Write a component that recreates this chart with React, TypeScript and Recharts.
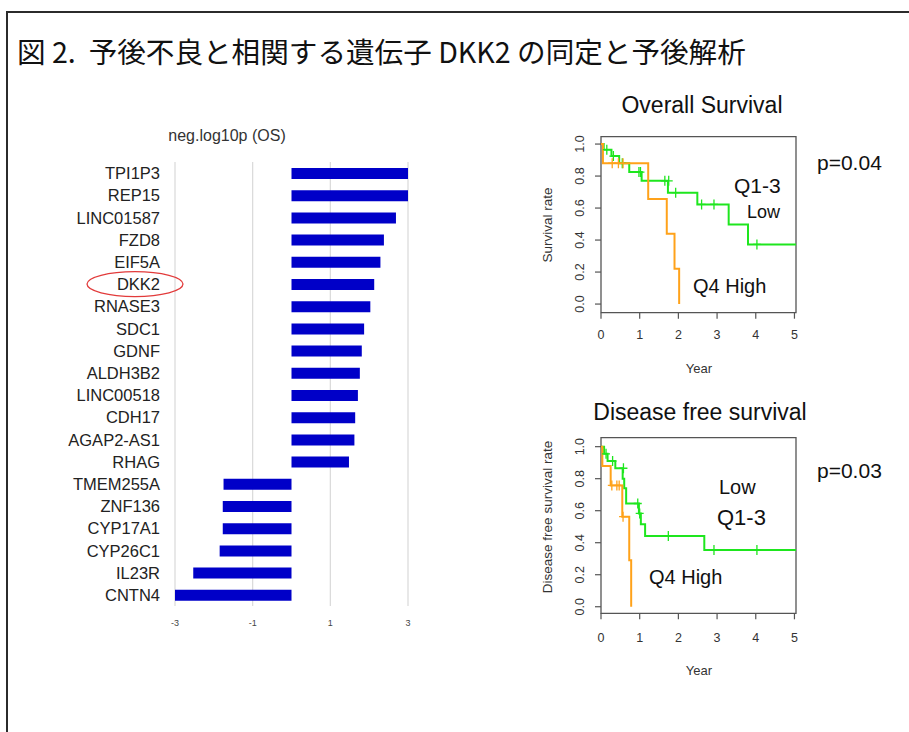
import React from 'react';
import { BarChart, Bar, XAxis, YAxis, CartesianGrid, ComposedChart, Line, ReferenceArea } from 'recharts';

// ---------- Data ----------
const genes = ['TPI1P3', 'REP15', 'LINC01587', 'FZD8', 'EIF5A', 'DKK2', 'RNASE3', 'SDC1', 'GDNF', 'ALDH3B2', 'LINC00518', 'CDH17', 'AGAP2-AS1', 'RHAG', 'TMEM255A', 'ZNF136', 'CYP17A1', 'CYP26C1', 'IL23R', 'CNTN4'];
const negLog10p = [3.0, 3.0, 2.69, 2.38, 2.29, 2.13, 2.03, 1.87, 1.81, 1.76, 1.71, 1.64, 1.62, 1.48, -1.75, -1.77, -1.77, -1.85, -2.53, -3.0];
const barTicks = [-3, -1, 1, 3];
const highlightGene = 'DKK2';

const kmXTicks = [0, 1, 2, 3, 4, 5];
const kmYTicks = [0, 0.2, 0.4, 0.6, 0.8, 1.0];

// Overall survival
const osHighTime = [0, 0.05, 1.22, 1.7, 1.9, 2.02];
const osHighSurv = [1, 0.88, 0.656, 0.44, 0.22, 0];
const osLowTime = [0, 0.07, 0.27, 0.47, 0.73, 1.05, 1.73, 2.49, 3.3, 3.8, 5.04];
const osLowSurv = [1, 0.965, 0.925, 0.88, 0.825, 0.77, 0.696, 0.623, 0.498, 0.373, 0.373];
const osHighCensTime = [0.29, 0.45, 0.57];
const osHighCensSurv = [0.88, 0.88, 0.88];
const osLowCensTime = [0.15, 0.32, 0.55, 0.98, 1.02, 1.65, 1.75, 1.93, 2.6, 2.92, 4.03];
const osLowCensSurv = [0.965, 0.925, 0.88, 0.825, 0.825, 0.77, 0.77, 0.696, 0.623, 0.623, 0.373];

// Disease free survival
const dfsHighTime = [0, 0.035, 0.25, 0.55, 0.73, 0.78];
const dfsHighSurv = [1, 0.879, 0.758, 0.5625, 0.29, 0];
const dfsLowTime = [0, 0.08, 0.17, 0.37, 0.56, 0.6, 0.65, 0.98, 1.03, 1.14, 2.67, 5.04];
const dfsLowSurv = [1, 0.955, 0.91, 0.865, 0.8, 0.74, 0.645, 0.583, 0.515, 0.442, 0.354, 0.354];
const dfsHighCensTime = [0.28, 0.41, 0.47, 0.57];
const dfsHighCensSurv = [0.758, 0.758, 0.758, 0.5625];
const dfsLowCensTime = [0.13, 0.3, 0.58, 0.95, 1.0, 1.74, 2.92, 4.03];
const dfsLowCensSurv = [0.955, 0.91, 0.865, 0.645, 0.583, 0.442, 0.354, 0.354];

// ---------- Helpers ----------
const FONT = '"Liberation Sans", Arial, sans-serif';
const ORANGE = '#ffa21a';
const GREEN = '#1ee61e';

const pairs = (t: number[], s: number[]) => t.map((v, i) => ({ t: v, s: s[i] }));
const barData = genes.map((g, i) => ({ gene: g, value: negLog10p[i] }));

const GeneTick = (props: any) => {
  const { x, y, payload } = props;
  return (
    <g>
      {payload.value === highlightGene && (
        <ellipse cx={x - 25} cy={y} rx={48} ry={12.5} fill="none" stroke="#e23b3b" strokeWidth={1.3} />
      )}
      <text x={x} y={y} textAnchor="end" dominantBaseline="central" fontSize={16.5} fill="#222" fontFamily={FONT}>
        {payload.value}
      </text>
    </g>
  );
};

const BarXTick = (props: any) => {
  const { x, y, payload } = props;
  return (
    <text x={x} y={y} textAnchor="middle" dominantBaseline="central" fontSize={9} fill="#444" fontFamily={FONT}>
      {payload.value}
    </text>
  );
};

const KMYTick = (props: any) => {
  const { x, y, payload } = props;
  return (
    <text x={x} y={y} transform={`rotate(-90 ${x} ${y})`} textAnchor="middle" dominantBaseline="central" fontSize={12.5} fill="#333" fontFamily={FONT}>
      {Number(payload.value).toFixed(1)}
    </text>
  );
};

const KMXTick = (props: any) => {
  const { x, y, payload } = props;
  return (
    <text x={x} y={y} textAnchor="middle" dominantBaseline="central" fontSize={12.5} fill="#333" fontFamily={FONT}>
      {payload.value}
    </text>
  );
};

const censorDot = (color: string) => (p: any) => (
  <g key={`c-${p.index}`}>
    <line x1={p.cx} x2={p.cx} y1={p.cy - 5} y2={p.cy + 5} stroke={color} strokeWidth={1.3} />
    <line x1={p.cx - 4} x2={p.cx + 4} y1={p.cy} y2={p.cy} stroke={color} strokeWidth={1.3} />
  </g>
);

type KMProps = {
  high: { t: number; s: number }[];
  low: { t: number; s: number }[];
  highCens: { t: number; s: number }[];
  lowCens: { t: number; s: number }[];
  yDomain: [number, number];
  top: number;
  bottom: number;
  xTickMargin: number;
};

const KMChart = ({ high, low, highCens, lowCens, yDomain, top, bottom, xTickMargin }: KMProps) => (
  <div style={{ position: 'absolute', left: 0, top: 0 }}>
    <ComposedChart width={909} height={732} margin={{ left: 556, right: 113, top, bottom }}>
      <XAxis
        type="number"
        dataKey="t"
        domain={[0, 5.04]}
        ticks={kmXTicks}
        allowDataOverflow
        axisLine={false}
        tickSize={6}
        tickMargin={xTickMargin}
        tickLine={{ stroke: '#555', strokeWidth: 1.2 }}
        tick={KMXTick}
        height={30}
        interval={0}
      />
      <YAxis
        type="number"
        domain={yDomain}
        ticks={kmYTicks}
        allowDataOverflow
        axisLine={false}
        tickSize={6}
        tickMargin={15}
        tickLine={{ stroke: '#555', strokeWidth: 1.2 }}
        tick={KMYTick}
        width={45}
        interval={0}
      />
      <ReferenceArea x1={0} x2={5.04} y1={yDomain[0]} y2={yDomain[1]} fill="none" stroke="#555" strokeWidth={1.3} ifOverflow="visible" />
      <Line data={low} dataKey="s" type="stepAfter" stroke={GREEN} strokeWidth={2} dot={false} isAnimationActive={false} />
      <Line data={high} dataKey="s" type="stepAfter" stroke={ORANGE} strokeWidth={2} dot={false} isAnimationActive={false} />
      <Line data={lowCens} dataKey="s" stroke="none" dot={censorDot(GREEN)} isAnimationActive={false} />
      <Line data={highCens} dataKey="s" stroke="none" dot={censorDot(ORANGE)} isAnimationActive={false} />
    </ComposedChart>
  </div>
);

const T = (p: any) => <text fontFamily={FONT} dominantBaseline="central" {...p} />;

export default function App() {
  return (
    <div style={{ position: 'absolute', left: 0, top: 0, width: 909, height: 732, overflow: 'hidden', background: '#fff' }}>
      <div style={{ position: 'absolute', left: 6, top: 11, width: 960, height: 800, border: '2px solid #2b2b2b' }} />

      {/* Gene bar chart */}
      <div style={{ position: 'absolute', left: 0, top: 0 }}>
        <BarChart width={909} height={732} data={barData} layout="vertical" margin={{ left: 60, right: 501, top: 162, bottom: 96 }}>
          <CartesianGrid horizontal={false} stroke="#d9d9d9" strokeWidth={1.2} />
          <XAxis type="number" domain={[-3, 3]} ticks={barTicks} axisLine={false} tickLine={false} tickSize={0} tickMargin={17} tick={BarXTick} height={30} interval={0} />
          <YAxis type="category" dataKey="gene" width={115} axisLine={false} tickLine={false} tickSize={0} tickMargin={15} tick={GeneTick} interval={0} />
          <Bar dataKey="value" fill="#0000c8" barSize={11} isAnimationActive={false} />
        </BarChart>
      </div>

      <KMChart
        high={pairs(osHighTime, osHighSurv)}
        low={pairs(osLowTime, osLowSurv)}
        highCens={pairs(osHighCensTime, osHighCensSurv)}
        lowCens={pairs(osLowCensTime, osLowCensSurv)}
        yDomain={[-0.054, 1.046]}
        top={136.7}
        bottom={389.3}
        xTickMargin={16}
      />
      <KMChart
        high={pairs(dfsHighTime, dfsHighSurv)}
        low={pairs(dfsLowTime, dfsLowSurv)}
        highCens={pairs(dfsHighCensTime, dfsHighCensSurv)}
        lowCens={pairs(dfsLowCensTime, dfsLowCensSurv)}
        yDomain={[-0.041, 1.056]}
        top={437.7}
        bottom={88.7}
        xTickMargin={18.5}
      />

      <svg width={909} height={732} style={{ position: 'absolute', left: 0, top: 0, pointerEvents: 'none' }}>
        <text x={17} y={50} fontFamily='"Noto Sans CJK JP", sans-serif' fontSize={28.6} fill="#111" dominantBaseline="central" style={{ whiteSpace: 'pre' }}>
          {'図 2.  予後不良と相関する遺伝子 DKK2 の同定と予後解析'}
        </text>
        <T x={227} y={135} textAnchor="middle" fontSize={16} fill="#333">neg.log10p (OS)</T>

        <T x={702} y={105} textAnchor="middle" fontSize={23} fill="#111">Overall Survival</T>
        <T x={817} y={162} fontSize={21} fill="#111">p=0.04</T>
        <T x={734} y={185} fontSize={21} fill="#111">Q1-3</T>
        <T x={747} y={212} fontSize={18} fill="#111">Low</T>
        <T x={693} y={286} fontSize={20} fill="#111">Q4 High</T>
        <T x={547} y={225} textAnchor="middle" fontSize={13.5} fill="#333" transform="rotate(-90 547 225)">Survival rate</T>
        <T x={699} y={368} textAnchor="middle" fontSize={13} fill="#333">Year</T>

        <T x={700} y={412} textAnchor="middle" fontSize={23} fill="#111">Disease free survival</T>
        <T x={817} y={470} fontSize={21} fill="#111">p=0.03</T>
        <T x={719} y={487} fontSize={20} fill="#111">Low</T>
        <T x={717} y={517} fontSize={22} fill="#111">Q1-3</T>
        <T x={649} y={577} fontSize={20} fill="#111">Q4 High</T>
        <T x={547} y={517} textAnchor="middle" fontSize={13.5} fill="#333" transform="rotate(-90 547 517)">Disease free survival rate</T>
        <T x={699} y={670} textAnchor="middle" fontSize={13} fill="#333">Year</T>
      </svg>
    </div>
  );
}
